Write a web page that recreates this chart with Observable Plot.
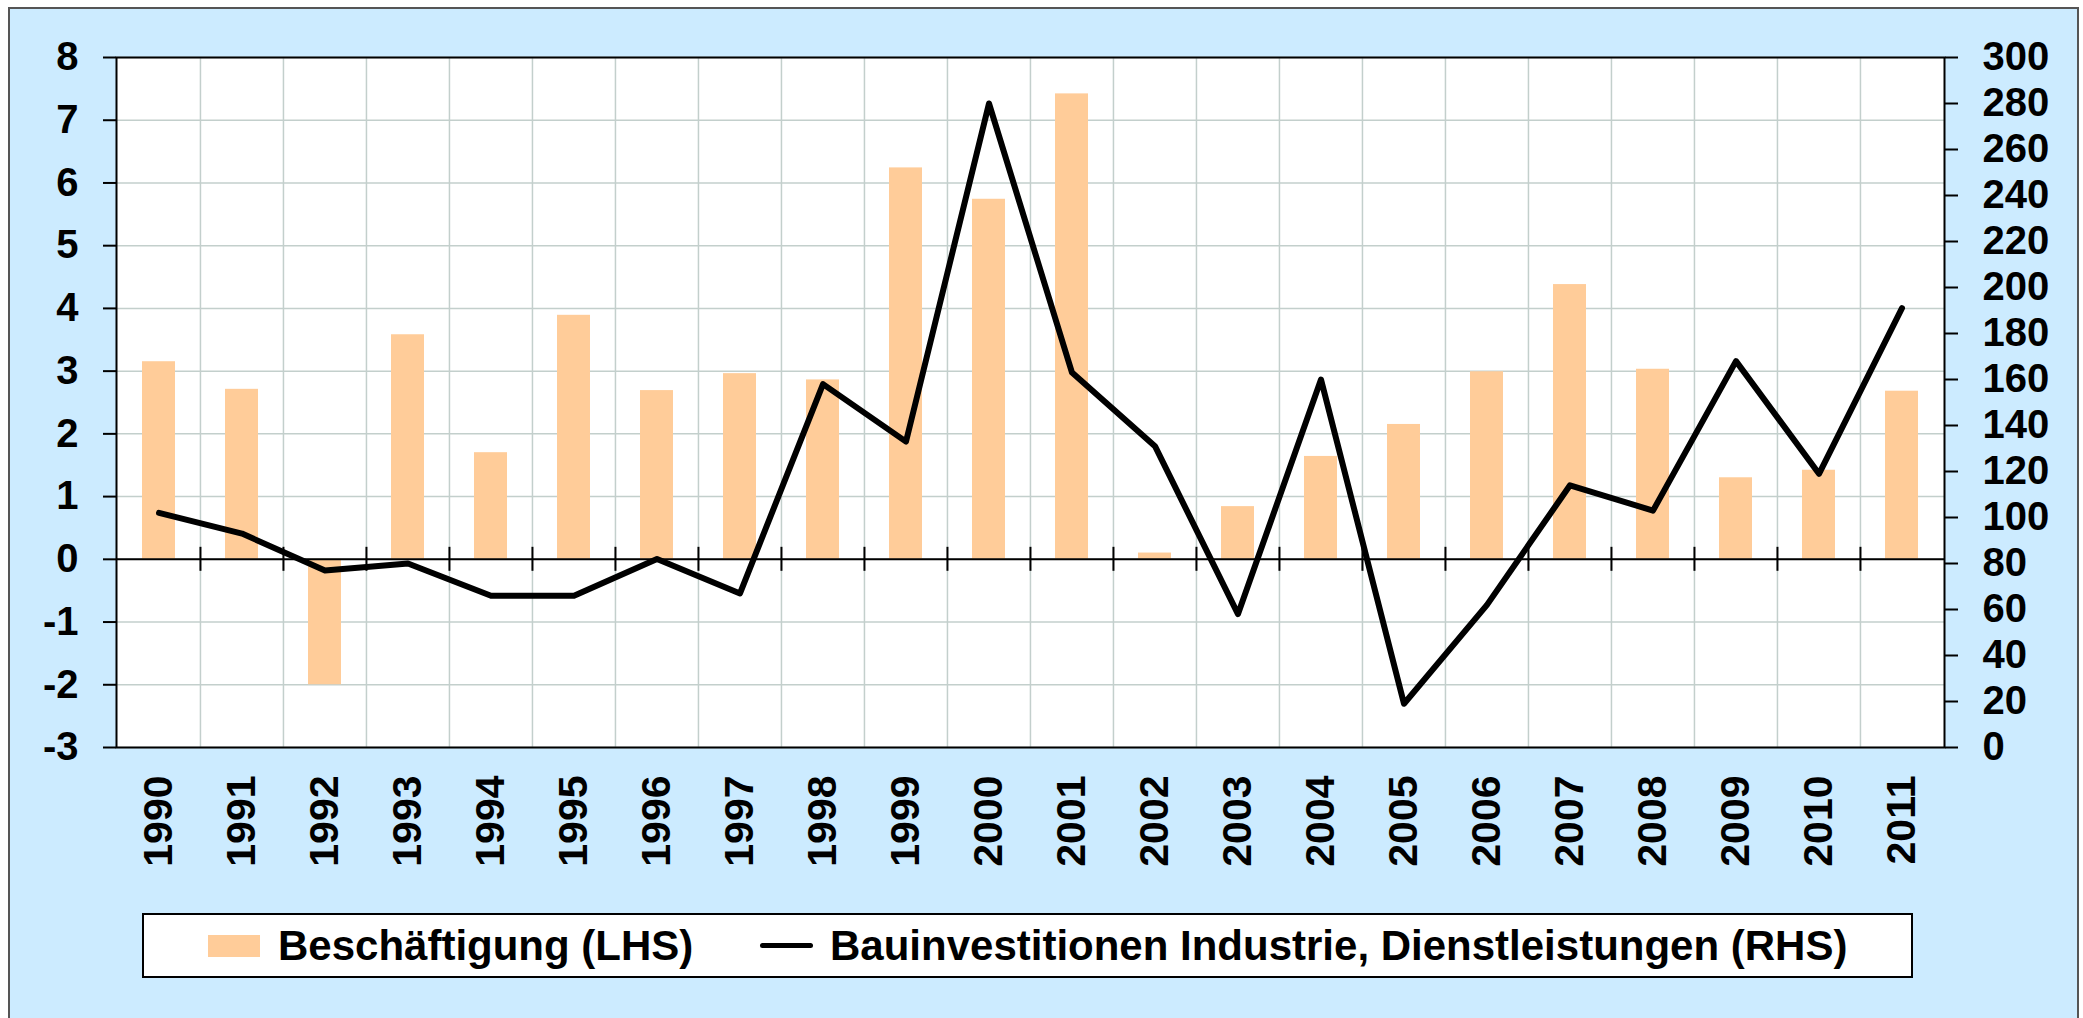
<!DOCTYPE html>
<html><head><meta charset="utf-8">
<script src="https://cdn.jsdelivr.net/npm/d3@7"></script>
<script src="https://cdn.jsdelivr.net/npm/@observablehq/plot@0.6"></script>
<style>
html,body{margin:0;padding:0;background:#fff;}
#wrap{position:relative;width:2083px;height:1018px;overflow:hidden;font-family:"Liberation Sans",Arial,sans-serif;font-weight:bold;color:#000;}
#bg{position:absolute;left:8px;top:7px;width:2071px;height:1020px;box-sizing:border-box;border:2px solid #555;background:#CCEBFF;}
#chart{position:absolute;left:0;top:0;}
#legend{position:absolute;left:142px;top:913px;width:1771px;height:65px;box-sizing:border-box;border:2px solid #000;background:#fff;}
#legend .sw{position:absolute;left:64px;top:20px;width:52px;height:22px;background:#FFCC99;}
#legend .ln{position:absolute;left:616px;top:28px;width:53px;height:5px;border-radius:3px;background:#000;}
#legend .tx{position:absolute;top:0;height:61px;line-height:61px;font-size:42px;white-space:nowrap;}
</style>
</head><body>
<div id="wrap">
  <div id="bg"></div>
  <div id="chart"></div>
  <div id="legend"></div>
</div>
<script>
const years = ["1990","1991","1992","1993","1994","1995","1996","1997","1998","1999","2000","2001","2002","2003","2004","2005","2006","2007","2008","2009","2010","2011"];
const beschaeftigung = [3.15, 2.71, -2.0, 3.58, 1.70, 3.89, 2.69, 2.96, 2.86, 6.24, 5.74, 7.42, 0.10, 0.84, 1.64, 2.15, 2.99, 4.38, 3.03, 1.30, 1.42, 2.68];
const bauinvestitionen = [102, 93, 77, 80, 66, 66, 82, 67, 158, 133, 280, 163, 131, 58, 160, 19, 62, 114, 103, 168, 119, 191];
const leftTicks = [-3, -2, -1, 0, 1, 2, 3, 4, 5, 6, 7, 8];
const rightTicks = [0, 20, 40, 60, 80, 100, 120, 140, 160, 180, 200, 220, 240, 260, 280, 300];
const seriesNames = ["Beschäftigung (LHS)", "Bauinvestitionen Industrie, Dienstleistungen (RHS)"];

const W = 2083, H = 900, ML = 116, MR = 139, MT = 57, MB = 153;
const toLeft = v => -3 + v * 11 / 300;
const fromLeft = u => (u + 3) * 300 / 11;
const bw = (W - ML - MR) / years.length;
const grid = "#C3CFCC";
const font = '"Liberation Sans", Arial, sans-serif';

const data = years.map((yr, i) => ({year: yr, emp: beschaeftigung[i], inv: bauinvestitionen[i]}));

const chart = Plot.plot({
  width: W, height: H,
  marginLeft: ML, marginRight: MR, marginTop: MT, marginBottom: MB,
  style: {background: "transparent", fontFamily: font, fontWeight: "bold", fontSize: "40px", color: "#000", overflow: "visible"},
  x: {type: "band", domain: years, padding: 0, label: null},
  y: {domain: [-3, 8], label: null},
  marks: [
    Plot.frame({fill: "white"}),
    Plot.gridY(leftTicks, {stroke: grid, strokeOpacity: 1, strokeWidth: 1.5}),
    Plot.ruleX(years.slice(1), {x: d => d, dx: -bw / 2, stroke: grid, strokeWidth: 1.5}),
    Plot.barY(data, {x: "year", y: "emp", fill: "#FFCC99", insetLeft: 25, insetRight: 25}),
    Plot.ruleY([0], {stroke: "#000", strokeWidth: 2}),
    Plot.ruleX(years.slice(1), {x: d => d, dx: -bw / 2, y1: 0, y2: 0, insetTop: -12, insetBottom: -12, stroke: "#000", strokeWidth: 2}),
    Plot.line(data, {x: "year", y: d => toLeft(d.inv), stroke: "#000", strokeWidth: 6, strokeLinejoin: "round", strokeLinecap: "round"}),
    Plot.frame({stroke: "#000", strokeWidth: 2}),
    Plot.axisY(leftTicks, {anchor: "left", tickSize: 13, tickPadding: 25, strokeWidth: 2, label: null, fontSize: 40, tickFormat: d => String(d)}),
    Plot.axisY(rightTicks.map(toLeft), {anchor: "right", tickSize: 13, tickPadding: 25, strokeWidth: 2, label: null, fontSize: 40, tickFormat: u => String(Math.round(fromLeft(u)))}),
    Plot.axisX({tickRotate: -90, tickSize: 0, tickPadding: 28, label: null, fontSize: 41})
  ]
});
document.getElementById("chart").appendChild(chart);

const lg = document.getElementById("legend");
lg.innerHTML = `<div class="sw"></div><div class="tx" style="left:134px">${seriesNames[0]}</div><div class="ln"></div><div class="tx" style="left:686px">${seriesNames[1]}</div>`;
</script>
</body></html>
